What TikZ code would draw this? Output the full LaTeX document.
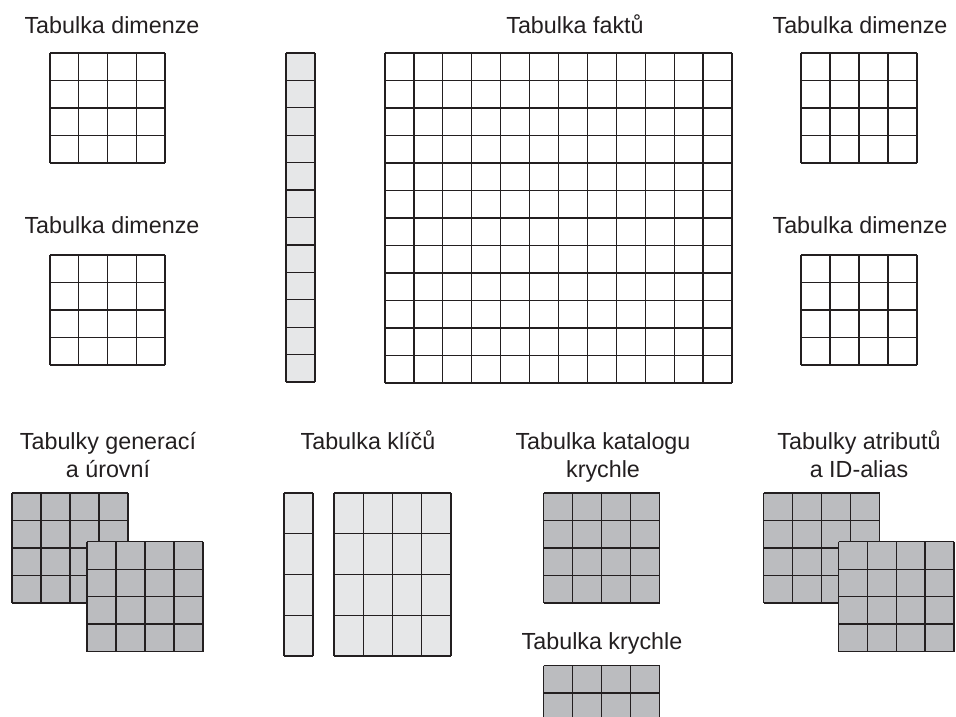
\documentclass[tikz,border=0pt]{standalone}
\usepackage{fontspec}
\setmainfont{Liberation Sans}
\definecolor{linec}{HTML}{231F20}
\definecolor{darkfill}{HTML}{BBBCBF}
\definecolor{lightfill}{HTML}{E6E7E8}
\tikzset{
  gridline/.style={draw=linec, line width=1.3pt},
  lbl/.style={anchor=base, inner sep=0pt, text=linec, font=\fontsize{23.3}{27}\selectfont},
}
\newcommand\tgrid[7]{%
  \fill[#7] (#1,#2) rectangle (#3,#4);
  \pgfmathsetmacro\gdx{(#3-#1)/#5}%
  \pgfmathsetmacro\gdy{(#4-#2)/#6}%
  \foreach \k in {0,...,#5}{\draw[gridline] ({#1+\k*\gdx},#2) -- ({#1+\k*\gdx},#4);}%
  \foreach \k in {0,...,#6}{\draw[gridline] (#1,{#2+\k*\gdy}) -- (#3,{#2+\k*\gdy});}%
}
\begin{document}
\begin{tikzpicture}[x=1pt,y=-1pt]
\useasboundingbox[fill=white] (0,0) rectangle (956,717);
\clip (0,0) rectangle (956,717);
% top row labels
\node[lbl] (d1) at (112,33.3) {Tabulka dimenze};
\node[lbl] (d2) at (112,233.3) {Tabulka dimenze};
\node[lbl] (f) at (575,33.3) {Tabulka faktů};
\node[lbl] (d3) at (860,33.3) {Tabulka dimenze};
\node[lbl] (d4) at (860,233.3) {Tabulka dimenze};
% top grids
\tgrid{50}{53}{165}{163}{4}{4}{white}
\tgrid{50}{255}{165}{365}{4}{4}{white}
\tgrid{286}{53}{315}{382}{1}{12}{lightfill}
\tgrid{385}{53}{732}{383}{12}{12}{white}
\tgrid{801}{53}{917}{163}{4}{4}{white}
\tgrid{801}{255}{917}{365}{4}{4}{white}
% bottom labels
\node[lbl] (g1) at (108,449) {Tabulky generací};
\node[lbl] (g2) at (108,477) {a úrovní};
\node[lbl] (k) at (368,449) {Tabulka klíčů};
\node[lbl] (c1) at (603,449) {Tabulka katalogu};
\node[lbl] (c2) at (603,477) {krychle};
\node[lbl] (a1) at (859,449) {Tabulky atributů};
\node[lbl] (a2) at (859,477) {a ID-alias};
\node[lbl] (kr) at (602,649) {Tabulka krychle};
% bottom grids
\tgrid{12}{493}{128}{603}{4}{4}{darkfill}
\tgrid{87}{541.7}{203}{651.5}{4}{4}{darkfill}
\tgrid{284}{493}{313}{656}{1}{4}{lightfill}
\tgrid{334}{493}{451}{656}{4}{4}{lightfill}
\tgrid{543.5}{493}{659.5}{603}{4}{4}{darkfill}
\tgrid{763.5}{493}{879.5}{603}{4}{4}{darkfill}
\tgrid{838.5}{541.7}{954}{651.5}{4}{4}{darkfill}
\tgrid{543.5}{665.5}{659.5}{775.5}{4}{4}{darkfill}
\end{tikzpicture}
\end{document}
